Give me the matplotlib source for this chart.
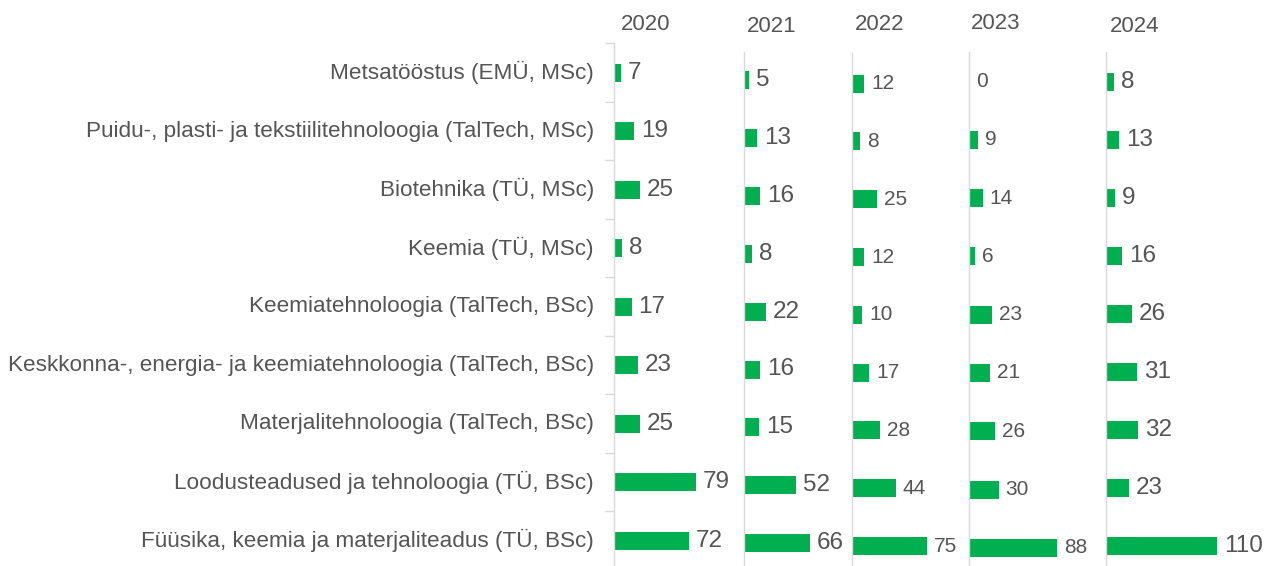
import matplotlib
matplotlib.use("Agg")
import matplotlib.pyplot as plt

# ---------------- data ----------------
categories = [
    "Metsatööstus (EMÜ, MSc)",
    "Puidu-, plasti- ja tekstiilitehnoloogia (TalTech, MSc)",
    "Biotehnika (TÜ, MSc)",
    "Keemia (TÜ, MSc)",
    "Keemiatehnoloogia (TalTech, BSc)",
    "Keskkonna-, energia- ja keemiatehnoloogia (TalTech, BSc)",
    "Materjalitehnoloogia (TalTech, BSc)",
    "Loodusteadused ja tehnoloogia (TÜ, BSc)",
    "Füüsika, keemia ja materjaliteadus (TÜ, BSc)",
]
years = ["2020", "2021", "2022", "2023", "2024"]
v2020 = [7, 19, 25, 8, 17, 23, 25, 79, 72]
v2021 = [5, 13, 16, 8, 22, 16, 15, 52, 66]
v2022 = [12, 8, 25, 12, 10, 17, 28, 44, 75]
v2023 = [0, 9, 14, 6, 23, 21, 26, 30, 88]
v2024 = [8, 13, 9, 16, 26, 31, 32, 23, 110]
series = [v2020, v2021, v2022, v2023, v2024]

# ---------------- style / layout ----------------
W, H = 1265, 566
GREEN = "#00B050"
TXT = "#555555"
LINE = "#D9D9D9"
FONT = ["Liberation Sans", "DejaVu Sans"]
plt.rcParams["font.family"] = FONT

# per panel: left px, top px, first-row centre px, row spacing px, px per unit, label size
panels = [
    dict(L=614.0, T=43.3, y0=72.5, sp=58.5, s=1.04, fs=17.5, ticks=True),
    dict(L=744.0, T=51.7, y0=80.0, sp=57.9, s=1.00, fs=17.5, ticks=False),
    dict(L=852.0, T=53.0, y0=83.7, sp=57.8, s=1.00, fs=15.0, ticks=False),
    dict(L=968.7, T=52.0, y0=81.7, sp=58.26, s=1.00, fs=15.0, ticks=False),
    dict(L=1105.6, T=52.0, y0=81.7, sp=58.04, s=1.01, fs=17.5, ticks=False),
]
title_pos = [(646, 24.5), (771.5, 26), (879.5, 25), (995.5, 23.7), (1135, 26.7)]

fig = plt.figure(figsize=(W / 100, H / 100), dpi=100)
fig.patch.set_facecolor("white")

n = len(categories)
for k, (p, vals) in enumerate(zip(panels, series)):
    wpx = 150
    ax = fig.add_axes([p["L"] / W, 0, wpx / W, (H - p["T"]) / H])
    ax.set_xlim(0, wpx / p["s"])
    top = (p["T"] - p["y0"]) / p["sp"]
    bot = (H - p["y0"]) / p["sp"]
    ax.set_ylim(bot, top)
    ax.patch.set_alpha(0)
    bh = 18.0 / p["sp"]
    ypos = list(range(n))
    ax.barh(ypos, vals, height=bh, color=GREEN, zorder=2)
    for i, v in enumerate(vals):
        ax.annotate(str(v), xy=(v, i), xytext=(5.0, 0), textcoords="offset points",
                    ha="left", va="center", fontsize=p["fs"], color=TXT,
                    family=FONT)
    for sname in ["top", "right", "bottom"]:
        ax.spines[sname].set_visible(False)
    ax.spines["left"].set_color(LINE)
    ax.spines["left"].set_linewidth(1.0)
    ax.set_xticks([])
    if p["ticks"]:
        ax.set_yticks([i - 0.5 for i in range(n)])
        ax.set_yticklabels([])
        ax.tick_params(axis="y", length=6.5, width=1.0, color=LINE, direction="out")
        for i, c in enumerate(categories):
            ax.annotate(c, xy=(0, i), xycoords=("axes fraction", "data"),
                        xytext=(-14.4, 0), textcoords="offset points",
                        ha="right", va="center", fontsize=16.2, color=TXT,
                        family=FONT)
    else:
        ax.set_yticks([])

for (x, y), yr in zip(title_pos, years):
    fig.text(x / W, 1 - y / H, yr, ha="center", va="center", fontsize=16,
             color=TXT, family=FONT)

fig.savefig("out.png", dpi=100, facecolor="white")
